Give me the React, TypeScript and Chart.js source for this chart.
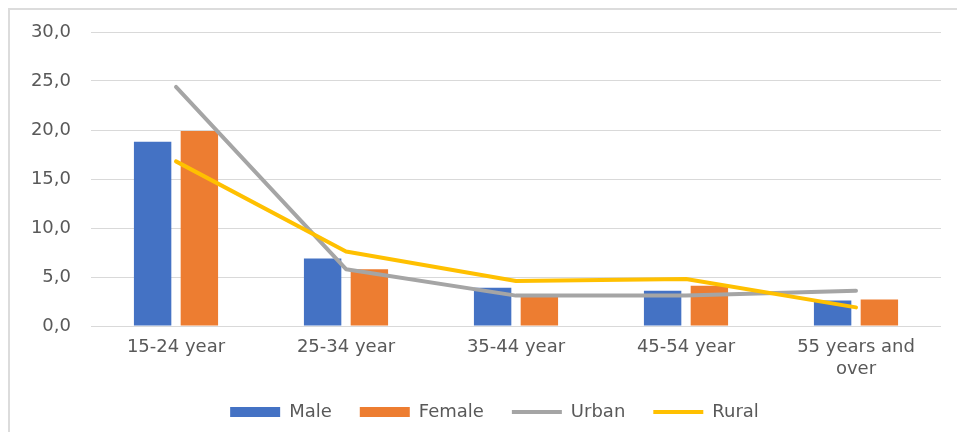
import React, { useEffect, useRef } from "react";
import { Chart, registerables } from "chart.js";

Chart.register(...registerables);

const categories: (string | string[])[] = [
  "15-24 year",
  "25-34 year",
  "35-44 year",
  "45-54 year",
  ["55 years and", "over"],
];
const male = [18.8, 6.9, 3.9, 3.6, 2.6];
const female = [19.9, 5.8, 3.1, 4.1, 2.7];
const urban = [24.4, 5.8, 3.1, 3.1, 3.6];
const rural = [16.8, 7.6, 4.6, 4.8, 1.9];
const yTicks = [0, 5, 10, 15, 20, 25, 30];

const FONT = "'DejaVu Sans', sans-serif";
const TXT = "#595959";

const legendShift = {
  id: "legendShift",
  afterLayout(chart: any) {
    const lg = chart.legend;
    if (lg) {
      lg.left += 24;
      lg.right += 24;
    }
  },
};

export default function App() {
  const ref = useRef<HTMLCanvasElement | null>(null);
  useEffect(() => {
    if (!ref.current) return;
    const chart = new Chart(ref.current, {
      type: "bar",
      plugins: [legendShift],
      data: {
        labels: categories,
        datasets: [
          {
            label: "Male",
            data: male,
            backgroundColor: "#4472C4",
            categoryPercentage: 0.55,
            barPercentage: 0.8,
            order: 2,
          },
          {
            label: "Female",
            data: female,
            backgroundColor: "#ED7D31",
            categoryPercentage: 0.55,
            barPercentage: 0.8,
            order: 3,
          },
          {
            type: "line",
            label: "Urban",
            data: urban,
            borderColor: "#A5A5A5",
            backgroundColor: "#A5A5A5",
            borderWidth: 4,
            borderCapStyle: "round",
            borderJoinStyle: "round",
            pointRadius: 0,
            tension: 0,
            order: 1,
          } as any,
          {
            type: "line",
            label: "Rural",
            data: rural,
            borderColor: "#FFC000",
            backgroundColor: "#FFC000",
            borderWidth: 4,
            borderCapStyle: "round",
            borderJoinStyle: "round",
            pointRadius: 0,
            tension: 0,
            order: 0,
          } as any,
        ],
      },
      options: {
        animation: false,
        responsive: true,
        maintainAspectRatio: false,
        layout: { padding: { left: 0, right: 16, top: 32, bottom: 1 } },
        plugins: {
          tooltip: { enabled: false },
          legend: {
            position: "bottom",
            labels: {
              usePointStyle: true,
              pointStyleWidth: 50,
              boxHeight: 10,
              padding: 28,
              color: TXT,
              font: { family: FONT, size: 18 },
              generateLabels: () => {
                const order = ["Male", "Female", "Urban", "Rural"];
                const info: Record<string, any> = {
                  Male: { c: "#4472C4", line: false, i: 0 },
                  Female: { c: "#ED7D31", line: false, i: 1 },
                  Urban: { c: "#A5A5A5", line: true, i: 2 },
                  Rural: { c: "#FFC000", line: true, i: 3 },
                };
                return order.map((name) => {
                  const d = info[name];
                  return {
                    text: name,
                    fillStyle: d.c,
                    strokeStyle: d.c,
                    lineWidth: d.line ? 4 : 0,
                    pointStyle: d.line ? "line" : "rect",
                    hidden: false,
                    datasetIndex: d.i,
                    fontColor: TXT,
                  } as any;
                });
              },
            },
          },
        },
        scales: {
          x: {
            grid: { display: false, drawTicks: false },
            border: { display: false },
            ticks: {
              color: TXT,
              font: { family: FONT, size: 18 },
              padding: 11,
              maxRotation: 0,
              autoSkip: false,
            },
            afterFit: (s: any) => {
              s.height = 49;
            },
          },
          y: {
            min: 0,
            max: 30,
            grid: { color: "#D9D9D9", lineWidth: 1, drawTicks: false },
            border: { display: false },
            afterBuildTicks: (s: any) => {
              s.ticks = yTicks.map((v) => ({ value: v }));
            },
            ticks: {
              color: TXT,
              font: { family: FONT, size: 18 },
              padding: 20,
              callback: (v: any) => Number(v).toFixed(1).replace(".", ","),
            },
            afterFit: (s: any) => {
              s.width = 91;
            },
          },
        },
      },
    });
    return () => chart.destroy();
  }, []);

  return (
    <div
      style={{
        position: "fixed",
        left: 0,
        top: 0,
        width: 957,
        height: 432,
        background: "#fff",
        overflow: "hidden",
      }}
    >
      <div
        style={{
          position: "absolute",
          left: 8,
          top: 8,
          width: 980,
          height: 460,
          border: "2px solid #DCDCDC",
        }}
      />
      <div style={{ position: "absolute", left: 0, top: 0, width: 957, height: 432 }}>
        <canvas ref={ref} />
      </div>
    </div>
  );
}
